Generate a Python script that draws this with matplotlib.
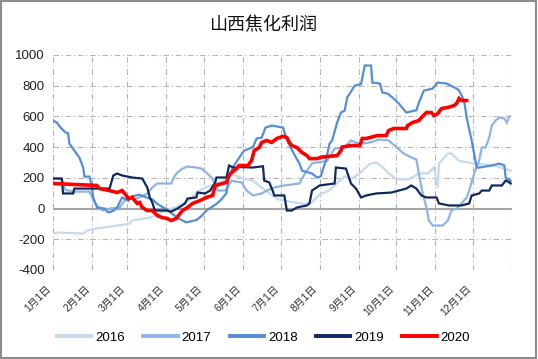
import matplotlib
matplotlib.use("Agg")
import matplotlib.pyplot as plt
from matplotlib.patches import Rectangle

plt.rcParams["font.family"] = ["Liberation Sans", "Noto Sans CJK SC", "DejaVu Sans"]

# day of year (0 = 1月1日) and profit values
days_2016 = [0, 4, 24, 27, 35, 51, 61, 63, 77, 90, 101, 109, 115, 122, 133, 143, 152, 159,
             170, 179, 188, 200, 206, 212, 220, 225, 232, 237, 244, 252, 257, 262, 267, 273,
             283, 291, 298, 303, 306, 307, 314, 317, 323, 335, 351, 359, 364]
vals_2016 = [-163, -156, -163, -143, -130, -111, -98, -78, -59, -13, 20, 60, 110, 140, 170, 220, 195, 182,
             110, 60, 45, 30, 40, 90, 120, 160, 210, 190, 230, 290, 300, 270, 230, 190,
             190, 230, 228, 267, 137, 293, 358, 358, 310, 293, 280, 260, 247]

days_2017 = [0, 7, 10, 17, 29, 33, 37, 40, 45, 53, 59, 65, 71, 75, 79, 83, 94, 97, 99, 103,
             107, 114, 118, 122, 126, 129, 131, 137, 142, 150, 154, 159, 166, 170, 176, 184,
             196, 198, 202, 206, 210, 218, 224, 232, 237, 244, 252, 260, 267, 273, 279, 285,
             289, 291, 294, 297, 299, 302, 310, 314, 317, 321, 325, 329, 331, 335, 339, 341,
             344, 347, 349, 352, 355, 359, 361, 363]
vals_2017 = [200, 195, 120, 110, 110, 40, 0, -13, 0, 7, 72, 60, 80, 98, 137, 163, 163, 215, 234, 260,
             273, 267, 260, 234, 202, 163, 117, 117, 180, 170, 117, 85, 98, 117, 137, 150,
             163, 195, 247, 293, 300, 310, 390, 400, 443, 420, 430, 450, 443, 400, 358, 332,
             320, 228, 98, 7, -78, -111, -111, -78, -13, 0, 33, 72, 117, 228, 313, 397,
             397, 462, 540, 573, 592, 586, 560, 600]

days_2018 = [0, 3, 6, 10, 12, 13, 17, 21, 24, 25, 29, 31, 32, 35, 41, 44, 48, 51, 55, 60, 63,
             69, 75, 79, 83, 89, 94, 101, 106, 114, 118, 122, 130, 134, 138, 140, 144, 148,
             152, 159, 162, 166, 169, 174, 183, 184, 187, 192, 196, 198, 206, 210, 213, 217,
             220, 222, 226, 229, 232, 234, 240, 245, 248, 253, 254, 260, 262, 266, 270, 275,
             281, 289, 291, 295, 302, 306, 313, 321, 323, 327, 329, 333, 337, 339, 349, 355,
             359, 360, 364]
vals_2018 = [573, 560, 527, 495, 490, 423, 377, 332, 267, 208, 208, 137, 72, 7, 0, -26, -15, 7, 72, 50, 80,
             90, 70, 60, 30, 0, -30, -70, -90, -75, -50, -13, 30, 60, 100, 215, 280, 330,
             377, 400, 456, 462, 527, 540, 527, 500, 430, 350, 293, 247, 228, 202, 210, 313,
             423, 443, 560, 625, 638, 723, 800, 810, 931, 931, 820, 814, 755, 749, 723, 684,
             625, 640, 690, 768, 781, 820, 814, 781, 768, 703, 592, 443, 267, 267, 280, 293,
             280, 202, 180]

days_2019 = [0, 7, 8, 16, 17, 45, 48, 51, 55, 63, 71, 75, 77, 79, 81, 91, 94, 99, 105, 107,
             114, 115, 121, 125, 129, 130, 138, 140, 144, 148, 159, 167, 168, 172, 175, 176,
             184, 186, 190, 194, 202, 204, 206, 212, 224, 225, 233, 237, 241, 245, 249, 257,
             269, 275, 281, 285, 289, 293, 297, 305, 307, 315, 325, 331, 333, 339, 341, 347,
             349, 357, 360, 363, 364]
vals_2019 = [195, 195, 98, 98, 130, 130, 215, 228, 215, 202, 195, 137, 72, 39, -13, -13, -20, 0, 33, 65,
             72, 104, 98, 117, 170, 202, 202, 280, 265, 270, 267, 275, 182, 170, 110, 85,
             85, -13, -13, 7, 20, 33, 117, 150, 163, 267, 260, 163, 130, 72, 85, 98,
             104, 117, 130, 150, 130, 85, 72, 72, 33, 20, 20, 33, 85, 98, 117, 117,
             150, 150, 182, 170, 163]

days_2020 = [0, 35, 37, 45, 51, 55, 57, 60, 63, 67, 69, 71, 75, 79, 83, 87, 91, 94, 98, 101,
             103, 107, 111, 117, 122, 127, 129, 135, 138, 140, 142, 146, 148, 155, 158, 160,
             164, 166, 170, 174, 178, 183, 186, 188, 190, 194, 198, 202, 204, 210, 214, 220,
             226, 229, 230, 237, 244, 246, 249, 252, 258, 265, 267, 271, 281, 282, 286, 291,
             293, 297, 301, 303, 306, 309, 314, 319, 321, 323, 325, 329]
vals_2020 = [163, 150, 130, 117, 104, 117, 98, 65, 72, 33, 39, 7, -13, -13, -46, -59, -65, -78, -65, -33,
             -13, 7, 33, 52, 72, 85, 150, 163, 170, 215, 234, 260, 280, 280, 313, 377,
             397, 430, 443, 430, 456, 470, 462, 430, 410, 397, 365, 345, 325, 325, 335, 340,
             345, 377, 400, 410, 410, 456, 456, 462, 475, 475, 508, 521, 521, 540, 560, 573,
             592, 625, 625, 605, 618, 651, 658, 670, 684, 716, 703, 703]

years = ["2016", "2017", "2018", "2019", "2020"]
month_starts = [0, 31, 59, 90, 120, 151, 181, 212, 243, 273, 304, 334]
month_labels = [f"{m}月1日" for m in range(1, 13)]
y_ticks = list(range(-400, 1001, 200))

series = [
    (days_2016, vals_2016, "#C6D9F1", 1.6),
    (days_2017, vals_2017, "#8EB4E3", 1.6),
    (days_2018, vals_2018, "#558ED5", 1.6),
    (days_2019, vals_2019, "#0F2A5C", 1.6),
    (days_2020, vals_2020, "#FF0000", 2.6),
]

fig = plt.figure(figsize=(5.38, 3.59), dpi=100)
ax = fig.add_axes([0.0985, 0.248, 0.853, 0.599])

grid_style = dict(color="#B4B4B4", linewidth=0.8, linestyle=(0, (5, 2.5, 1, 2.5)))
for yt in y_ticks:
    if yt != 0:
        ax.axhline(yt, zorder=0, **grid_style)
for xt in month_starts + [365]:
    ax.axvline(xt, zorder=0, **grid_style)
ax.axhline(0, color="#A6A6A6", linewidth=1.5, zorder=1)

for (d, v, c, lw), yr in zip(series, years):
    ax.plot(d, v, color=c, linewidth=lw, label=yr, zorder=2,
            solid_joinstyle="miter")

ax.set_xlim(0, 365)
ax.set_ylim(-400, 1000)
ax.set_yticks(y_ticks)
ax.set_yticklabels([str(t) for t in y_ticks], fontsize=9.5, color="#222222")
ax.set_xticks(month_starts)
ax.set_xticklabels(month_labels, rotation=45, ha="right", va="top",
                   fontsize=7.5, color="#333333")
ax.tick_params(axis="both", length=0)
ax.tick_params(axis="x", pad=10)
ax.tick_params(axis="y", pad=6)
for s in ax.spines.values():
    s.set_visible(False)

fig.text(0.488, 0.93, "山西焦化利润", ha="center", va="center", fontsize=13,
         family=["Noto Sans CJK SC"], color="#111111")

leg = fig.legend(loc="center", bbox_to_anchor=(0.49, 0.06), ncol=5, frameon=False,
                 fontsize=9.5, handlelength=2.6, handletextpad=0.3, columnspacing=1.4)
for h in leg.legend_handles:
    h.set_linewidth(2.8)

fig.add_artist(Rectangle((0.002, 0.003), 0.995, 0.994, transform=fig.transFigure,
                         fill=False, edgecolor="#8C8C8C", linewidth=1.5))

fig.savefig("out.png", dpi=100)
